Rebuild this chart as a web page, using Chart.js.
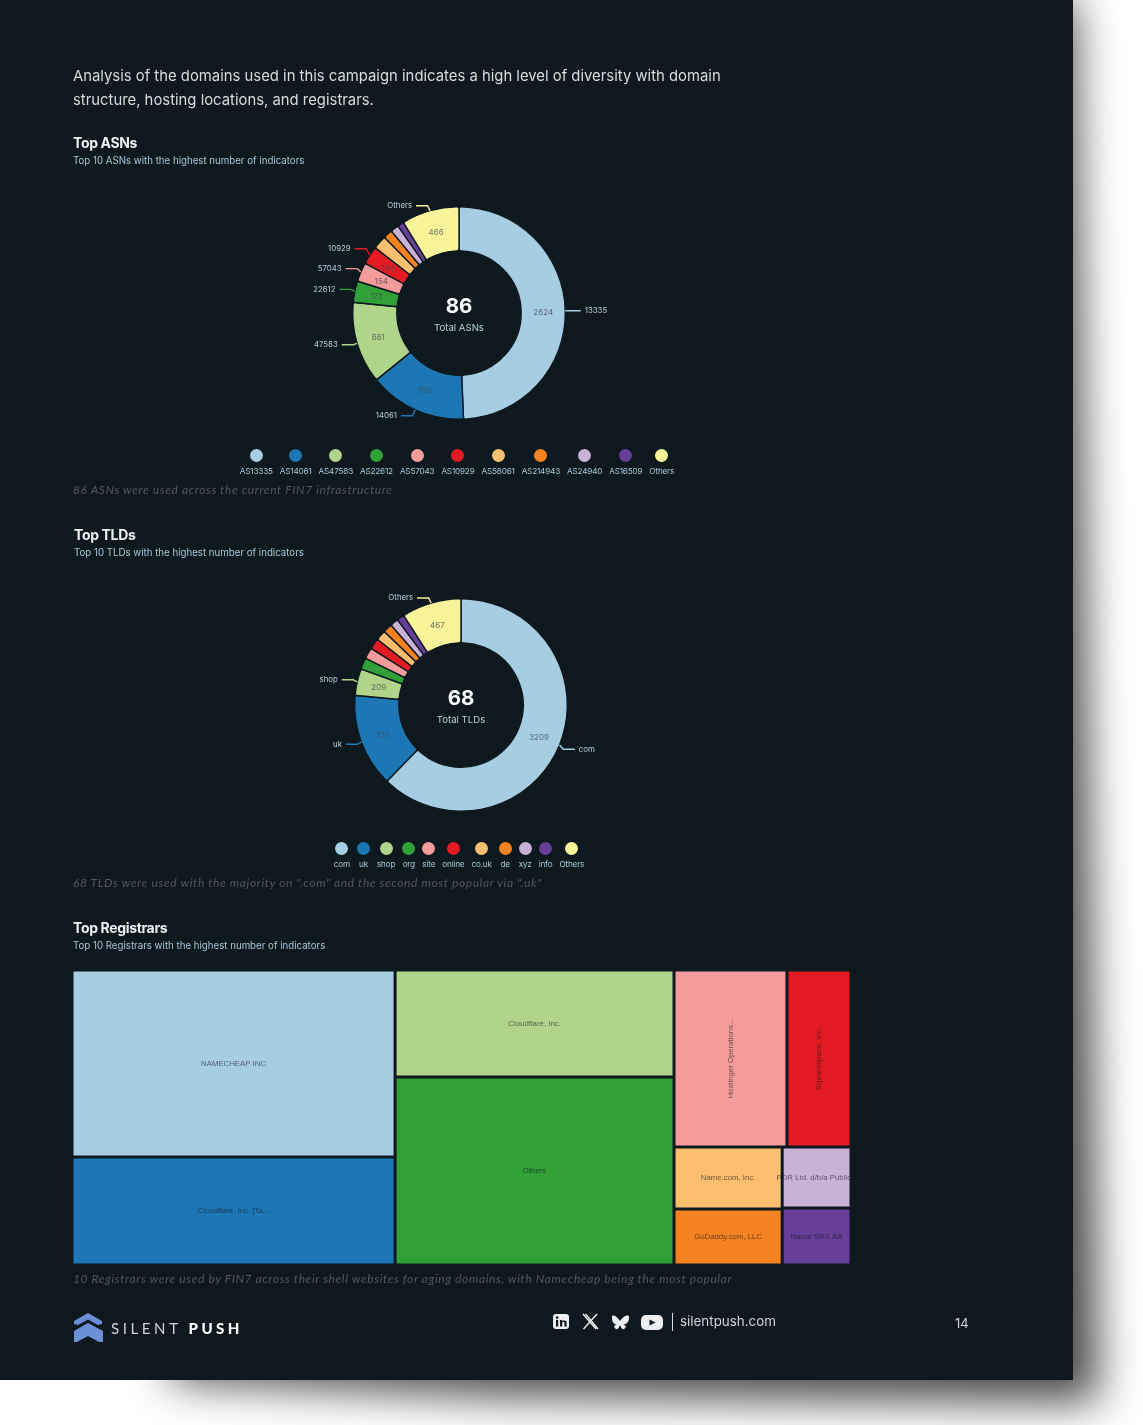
<!DOCTYPE html>
<html>
<head>
<meta charset="utf-8">
<title>Top ASNs, TLDs and Registrars</title>
<script src="https://cdn.jsdelivr.net/npm/chart.js@4/dist/chart.umd.min.js"></script>
<style>
html, body { margin: 0; padding: 0; background: #fff; width: 1143px; height: 1425px; overflow: hidden; }
#shadow { position: absolute; left: 0; top: 0; width: 1143px; height: 1425px; filter: blur(22px); }
#shadow i { position: absolute; left: 0; top: 0; width: 1143px; height: 1425px; background: rgba(0,0,0,.72); clip-path: polygon(300px -40px, 1073px -40px, 1098px 1398px, 1096px 1402px, 500px 1396px, 170px 1380px); display: block; }
#page { position: absolute; left: 0; top: 0; width: 1073px; height: 1380px; background: #0d191f; color: #d8dcde; font-family: Inter, sans-serif; overflow: hidden; }
#page div, #page canvas { position: absolute; }
#blurred { left: 0; top: 0; width: 1073px; height: 1380px; filter: blur(.45px); }
.intro { left: 73px; font-size: 14.85px; color: #d9dcdd; white-space: nowrap; }
.head { left: 73px; font-size: 14px; font-weight: 700; color: #eef0f1; letter-spacing: -.35px; white-space: nowrap; }
.sub { left: 73px; font-size: 9.7px; color: #a9c6d8; white-space: nowrap; }
.note { left: 73px; font-size: 12px; font-style: italic; color: #4d5962; white-space: nowrap; font-family: Lato, sans-serif; letter-spacing: .6px; }
.legend { display: flex; justify-content: center; }
#page .legend div { position: static; }
.item { display: flex; flex-direction: column; align-items: center; }
#page .dot { width: 13px; height: 13px; border-radius: 50%; margin-bottom: 4px; }
#page .lab { font-size: 8.2px; color: #a9c6d8; white-space: nowrap; letter-spacing: -.2px; }
.foot { color: #cfd3d5; white-space: nowrap; }
</style>
</head>
<body>
<div id="shadow"><i></i></div>
<div id="page">
 <div id="blurred">
  <div class="intro" style="top:67px">Analysis of the domains used in this campaign indicates a high level of diversity with domain</div>
  <div class="intro" style="top:91px">structure, hosting locations, and registrars.</div>

  <div class="head" style="top:134px">Top ASNs</div>
  <div class="sub" style="top:155px">Top 10 ASNs with the highest number of indicators</div>
  <canvas id="asnChart" style="left:249px;top:183px"></canvas>
  <div class="legend" id="asnLegend" style="left:157px;width:600px;top:449px"></div>
  <div class="note" style="top:482px">86 ASNs were used across the current FIN7 infrastructure</div>

  <div class="head" style="top:526px;left:74px">Top TLDs</div>
  <div class="sub" style="top:547px;left:74px">Top 10 TLDs with the highest number of indicators</div>
  <canvas id="tldChart" style="left:251px;top:575px"></canvas>
  <div class="legend" id="tldLegend" style="left:159px;width:600px;top:842px"></div>
  <div class="note" style="top:875px">68 TLDs were used with the majority on ".com" and the second most popular via ".uk"</div>

  <div class="head" style="top:919px">Top Registrars</div>
  <div class="sub" style="top:940px">Top 10 Registrars with the highest number of indicators</div>
  <canvas id="regChart" style="left:71.5px;top:969.5px"></canvas>
  <div class="note" style="top:1271px">10 Registrars were used by FIN7 across their shell websites for aging domains, with Namecheap being the most popular</div>

  <svg style="position:absolute;left:73px;top:1312px" width="32" height="32" viewBox="0 0 32 32">
    <path d="M15 1 L29 9 L29 12 L25 13 L15 7.5 L5 13 L1 12 L1 9 Z" fill="#6d8fd6"/>
    <path d="M15 11 L30 19 L30 30 L26 30 L15 24 L4 30 L1 30 L1 19 Z" fill="#6d8fd6"/>
  </svg>
  <div class="foot" style="left:111px;top:1319px;font-size:15px;letter-spacing:3.6px;font-family:Lato,sans-serif">SILENT <b style="font-weight:900;letter-spacing:3.4px;color:#fff">PUSH</b></div>

  <svg style="position:absolute;left:552px;top:1312px" width="116" height="20" viewBox="0 0 116 20">
    <rect x="1" y="2" width="16" height="15" rx="3" fill="#eceeef"/>
    <rect x="4" y="8" width="2.2" height="6.5" fill="#0d191f"/><circle cx="5.1" cy="5.6" r="1.3" fill="#0d191f"/>
    <path d="M8 8 h2 v1 q3 -2 4.6 .8 v4.7 h-2.2 v-4 q-1 -1.6 -2.2 0 v4 h-2.2 Z" fill="#0d191f"/>
    <path d="M31 2 L44 17 M33.5 2 L46 17 M45 2 L31.5 17" stroke="#eceeef" stroke-width="1.4" fill="none"/>
    <path d="M68 9 C65 4 60 2 60 5 C60 11 62 12 65 12.5 C62 13 61 15 64 17 C66 18 67 15 68 13 C69 15 70 18 72 17 C75 15 74 13 71 12.5 C74 12 77 11 77 5 C77 2 71 4 68 9 Z" fill="#eceeef"/>
    <rect x="89" y="3" width="22" height="15" rx="5" fill="#eceeef"/>
    <path d="M97.5 7.5 L103.5 10.5 L97.5 13.5 Z" fill="#0d191f"/>
  </svg>
  <div style="left:672px;top:1313px;width:1px;height:18px;background:#d8dcde"></div>
  <div class="foot" style="left:680px;top:1313px;font-size:13.4px">silentpush.com</div>
  <div class="foot" style="left:955px;top:1315px;font-size:13px">14</div>
 </div>
</div>

<script>
var PAGE_BG = "#0d191f";
var LABEL_COLOR = "#b7cfde";

// slice colours, same order everywhere
var palette = ["#a6cde2", "#1d77b5", "#b0d58a", "#31a137", "#f49b9b", "#e31c23", "#fbbf6f", "#f58220", "#c9b2d6", "#673f98", "#f9f49a"];

// top ASNs
var asnLegendNames = ["AS13335", "AS14061", "AS47583", "AS22612", "AS57043", "AS10929", "AS58061", "AS214943", "AS24940", "AS16509", "Others"];
var asnOuterNames = ["13335", "14061", "47583", "22612", "57043", "10929", "", "", "", "", "Others"];
var asnValues = [2624, 790, 661, 173, 154, 149, 111, 74, 66, 52, 466];
var asnInnerLabels = ["2624", "790", "661", "173", "154", "149", "", "", "", "", "466"];
var asnLeaderShift = [0, 5, 1, -2, -3, -6, 0, 0, 0, 0, -4];

// top TLDs
var tldLegendNames = ["com", "uk", "shop", "org", "site", "online", "co.uk", "de", "xyz", "info", "Others"];
var tldOuterNames = ["com", "uk", "shop", "", "", "", "", "", "", "", "Others"];
var tldValues = [3209, 731, 209, 90, 88, 85, 80, 72, 65, 58, 467];
var tldInnerLabels = ["3209", "731", "209", "", "", "", "", "", "", "", "467"];
var tldLeaderShift = [4, 2, -2, 0, 0, 0, 0, 0, 0, 0, -4];

// top registrars
var registrarNames = ["NAMECHEAP INC", "Cloudflare, Inc. [Ta...", "Cloudflare, Inc.", "Others", "Hostinger Operations...", "Squarespace, Inc.", "Name.com, Inc.", "GoDaddy.com, LLC", "PDR Ltd. d/b/a PublicD", "Name SRS AB"];
var registrarValues = [1354, 782, 669, 1175, 448, 254, 150, 136, 94, 88];
var registrarRotated = [false, false, false, false, true, true, false, false, false, false];
// how the treemap nests: odd depth splits across, even depth splits down
var registrarTree = [[0, 1], [2, 3], [[4, 5], [[6, 7], [8, 9]]]];

function buildLegend(id, names) {
	var html = "";
	for (let i = 0; i < names.length; i++) {
		html += `<div class="item" style="margin:0 3.5px"><div class="dot" style="background:${palette[i]}"></div><div class="lab">${names[i]}</div></div>`;
	}
	document.getElementById(id).innerHTML = html;
}

// draws the leader lines, the numbers on the slices and the total in the hole
var doughnutLabels = {
	id: "doughnutLabels",
	afterDatasetsDraw: function (chart, args, opts) {
		var ctx = chart.ctx;
		var arcs = chart.getDatasetMeta(0).data;
		ctx.save();
		ctx.textBaseline = "middle";
		arcs.forEach(function (arc, i) {
			var a = (arc.startAngle + arc.endAngle) / 2;
			var cos = Math.cos(a), sin = Math.sin(a);
			if (opts.inner[i]) {
				var r = (arc.innerRadius + arc.outerRadius) / 2;
				ctx.font = "8px Inter, sans-serif";
				ctx.textAlign = "center";
				ctx.fillStyle = "rgba(60,70,80,.72)";
				ctx.fillText(opts.inner[i], arc.x + r * cos, arc.y + r * sin + 1);
			}
			if (opts.outer[i]) {
				var x0 = arc.x + arc.outerRadius * cos, y0 = arc.y + arc.outerRadius * sin;
				var side = cos >= 0 ? 1 : -1;
				var y1 = y0 + opts.shift[i] + sin * 1;
				var x1 = x0 + side * (2 + 2 * Math.abs(cos));
				var x2 = x1 + side * 11.5;
				ctx.beginPath();
				ctx.moveTo(x0, y0);
				ctx.lineTo(x1, y1);
				ctx.lineTo(x2, y1);
				ctx.strokeStyle = palette[i];
				ctx.lineWidth = 1.4;
				ctx.stroke();
				ctx.font = "7.8px Inter, sans-serif";
				ctx.textAlign = side > 0 ? "left" : "right";
				ctx.fillStyle = LABEL_COLOR;
				ctx.fillText(opts.outer[i], x2 + side * 4, y1);
			}
		});
		ctx.textAlign = "center";
		ctx.fillStyle = "#ffffff";
		ctx.font = "700 20.5px Inter, sans-serif";
		ctx.fillText(opts.total, arcs[0].x, arcs[0].y - 6);
		ctx.fillStyle = LABEL_COLOR;
		ctx.font = "9.6px Inter, sans-serif";
		ctx.fillText(opts.caption, arcs[0].x, arcs[0].y + 15);
		ctx.restore();
	}
};

function buildDoughnut(id, names, values, outer, inner, shift, total, caption) {
	var canvas = document.getElementById(id);
	canvas.width = 420;
	canvas.height = 260;
	canvas.style.width = "420px";
	canvas.style.height = "260px";
	return new Chart(canvas, {
		type: "doughnut",
		data: {
			labels: names,
			datasets: [{ data: values, backgroundColor: palette, borderColor: PAGE_BG, borderWidth: 1.4, borderRadius: 2, hoverOffset: 0 }]
		},
		options: {
			responsive: false,
			animation: false,
			cutout: "58.5%",
			layout: { padding: 23 },
			plugins: {
				legend: { display: false },
				tooltip: { enabled: false },
				doughnutLabels: { outer: outer, inner: inner, shift: shift, total: total, caption: caption }
			}
		},
		plugins: [doughnutLabels]
	});
}

// sum of a tree node
function nodeValue(node) {
	if (typeof node === "number") return registrarValues[node];
	return node.reduce(function (s, n) { return s + nodeValue(n); }, 0);
}

// slice and dice, rect is in 0..1 units of the chart
function layoutNode(node, x0, x1, y0, y1, across, out) {
	if (typeof node === "number") {
		out[node] = { x0: x0, x1: x1, y0: y0, y1: y1 };
		return;
	}
	var total = nodeValue(node);
	var pos = across ? x0 : y0;
	node.forEach(function (child) {
		var share = nodeValue(child) / total;
		if (across) {
			var w = (x1 - x0) * share;
			layoutNode(child, pos, pos + w, y0, y1, false, out);
			pos += w;
		} else {
			var h = (y1 - y0) * share;
			layoutNode(child, x0, x1, pos, pos + h, true, out);
			pos += h;
		}
	});
}

// cell names go on top of the bars
var cellLabels = {
	id: "cellLabels",
	afterDatasetsDraw: function (chart) {
		var ctx = chart.ctx;
		ctx.save();
		ctx.font = "7.8px 'Liberation Sans', sans-serif";
		ctx.textAlign = "center";
		ctx.textBaseline = "middle";
		ctx.fillStyle = "rgba(20,20,30,.62)";
		var area = chart.chartArea;
		ctx.beginPath();
		ctx.rect(area.left, area.top, area.width - 1.5, area.height);
		ctx.clip();
		chart.data.datasets.forEach(function (ds, i) {
			var bar = chart.getDatasetMeta(i).data[0];
			var cx = (bar.x + bar.base) / 2;
			ctx.save();
			ctx.translate(cx, bar.y);
			if (registrarRotated[i]) ctx.rotate(-Math.PI / 2);
			ctx.fillText(registrarNames[i], 0, 0);
			ctx.restore();
		});
		ctx.restore();
	}
};

function buildTreemap() {
	var W = 779, H = 295;
	var canvas = document.getElementById("regChart");
	canvas.width = W;
	canvas.height = H;
	canvas.style.width = W + "px";
	canvas.style.height = H + "px";
	var cells = [];
	layoutNode(registrarTree, 0, 1, 0, 1, true, cells);
	var datasets = cells.map(function (c, i) {
		return {
			label: registrarNames[i],
			data: [{ x: [c.x0, c.x1], y: (c.y0 + c.y1) / 2 }],
			barThickness: (c.y1 - c.y0) * H,
			stack: "cells",
			backgroundColor: palette[i],
			borderColor: PAGE_BG,
			borderWidth: 1.5,
			borderSkipped: false,
			inflateAmount: 0
		};
	});
	return new Chart(canvas, {
		type: "bar",
		data: { datasets: datasets },
		options: {
			indexAxis: "y",
			responsive: false,
			animation: false,
			layout: { padding: 0 },
			scales: {
				x: { type: "linear", min: 0, max: 1, stacked: false, display: false },
				y: { type: "linear", min: 0, max: 1, reverse: true, stacked: true, offset: false, display: false }
			},
			plugins: { legend: { display: false }, tooltip: { enabled: false } }
		},
		plugins: [cellLabels]
	});
}

buildLegend("asnLegend", asnLegendNames);
buildLegend("tldLegend", tldLegendNames);
buildDoughnut("asnChart", asnLegendNames, asnValues, asnOuterNames, asnInnerLabels, asnLeaderShift, "86", "Total ASNs");
buildDoughnut("tldChart", tldLegendNames, tldValues, tldOuterNames, tldInnerLabels, tldLeaderShift, "68", "Total TLDs");
buildTreemap();
</script>
</body>
</html>
